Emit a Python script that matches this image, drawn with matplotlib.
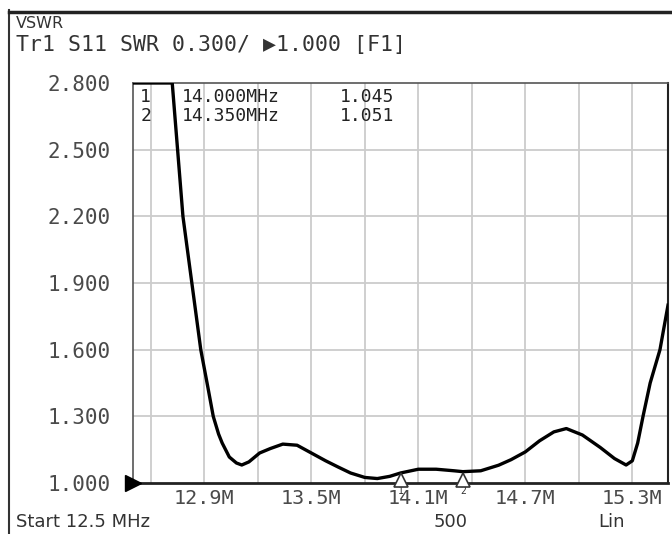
import numpy as np
import matplotlib
matplotlib.use("Agg")
import matplotlib.pyplot as plt

# SWR trace (values above 2.8 are clipped on screen)
freq_mhz = [12.50, 12.60, 12.72, 12.75, 12.78, 12.83, 12.88, 12.92, 12.95, 12.98,
            13.00, 13.04, 13.08, 13.11, 13.15, 13.21, 13.27, 13.34, 13.42, 13.50,
            13.58, 13.65, 13.72, 13.80, 13.87, 13.94, 14.00, 14.10, 14.20, 14.30,
            14.35, 14.45, 14.55, 14.62, 14.70, 14.78, 14.86, 14.93, 15.02, 15.12,
            15.20, 15.265, 15.30, 15.33, 15.36, 15.40, 15.455, 15.50]
swr = [2.800, 2.800, 2.800, 2.500, 2.200, 1.900, 1.600, 1.430, 1.300, 1.220,
       1.180, 1.117, 1.090, 1.081, 1.095, 1.135, 1.155, 1.175, 1.170, 1.135,
       1.100, 1.072, 1.045, 1.025, 1.020, 1.030, 1.045, 1.062, 1.062, 1.055,
       1.051, 1.055, 1.080, 1.105, 1.140, 1.190, 1.230, 1.245, 1.216, 1.160,
       1.110, 1.081, 1.100, 1.180, 1.300, 1.450, 1.600, 1.800]

marker_ids = ["1", "2"]
marker_freqs = [14.000, 14.350]
marker_vals = [1.045, 1.051]

ytick_vals = [1.0, 1.3, 1.6, 1.9, 2.2, 2.5, 2.8]
xgrid_vals = [12.6, 12.9, 13.2, 13.5, 13.8, 14.1, 14.4, 14.7, 15.0, 15.3]
xtick_vals = [12.9, 13.5, 14.1, 14.7, 15.3]
xtick_labels = ["12.9M", "13.5M", "14.1M", "14.7M", "15.3M"]

mono = ["DejaVu Sans Mono", "DejaVu Sans"]
grey = "#4a4a4a"

fig = plt.figure(figsize=(6.72, 5.34), dpi=100)
ax = fig.add_axes([133/672, 1 - 483/534, 535/672, 400/534])

ax.plot(freq_mhz, swr, color="black", lw=2.4, solid_joinstyle="round", zorder=3)
ax.set_xlim(12.5, 15.5)
ax.set_ylim(1.0, 2.8)

for xv in xgrid_vals:
    ax.axvline(xv, color="#cccccc", lw=1.3, zorder=1)
for yv in ytick_vals[1:-1]:
    ax.axhline(yv, color="#cccccc", lw=1.3, zorder=1)

ax.set_yticks(ytick_vals)
ax.set_yticklabels(["%.3f" % v for v in ytick_vals], family=mono, fontsize=15, color=grey)
ax.set_xticks(xtick_vals)
ax.set_xticklabels(xtick_labels, family=mono, fontsize=14.5, color=grey)
ax.tick_params(axis="y", length=0, pad=16)
ax.tick_params(axis="x", length=0, pad=4)

for side in ["top", "left"]:
    ax.spines[side].set_color("#555555")
    ax.spines[side].set_linewidth(1.2)
ax.spines["right"].set_color("#222222")
ax.spines["right"].set_linewidth(1.5)
ax.spines["bottom"].set_color("#222222")
ax.spines["bottom"].set_linewidth(2.0)

# reference level arrow
ax.plot([12.5], [1.0], marker=">", color="black", markersize=11, clip_on=False, zorder=5)

# marker table
rows_y = [2.738, 2.650]
for mid, mf, mv, yy in zip(marker_ids, marker_freqs, marker_vals, rows_y):
    ax.text(12.54, yy, mid, family=mono, fontsize=13, color="#222222", va="center")
    ax.text(12.775, yy, "%.3fMHz" % mf, family=mono, fontsize=13, color="#222222", va="center")
    ax.text(13.66, yy, "%.3f" % mv, family=mono, fontsize=13, color="#222222", va="center")

# marker symbols on the bottom edge
for mid, mf in zip(marker_ids, marker_freqs):
    ax.plot([mf, mf], [1.0, 1.035], color="#333333", lw=1.0, clip_on=False, zorder=4)
    ax.plot([mf], [1.012], marker="^", markersize=10, markerfacecolor="white",
            markeredgecolor="#333333", markeredgewidth=1.2, clip_on=False, zorder=4)
    ax.text(mf, 0.962, mid, family=mono, fontsize=7, color="#333333",
            ha="center", va="center")

# screen header / footer
fig.text(16/672, 1 - 24/534, "VSWR", fontsize=11.5, color="#333333", va="center")
fig.text(16/672, 1 - 45/534, "Tr1 S11 SWR 0.300/ \u25b61.000 [F1]", family=mono,
         fontsize=15.5, color="#333333", va="center")
fig.text(16/672, 1 - 522/534, "Start 12.5 MHz", fontsize=13, color="#333333", va="center")
fig.text(451/672, 1 - 522/534, "500", fontsize=13, color="#333333", va="center", ha="center")
fig.text(612/672, 1 - 522/534, "Lin", fontsize=13, color="#333333", va="center", ha="center")

# instrument window borders
fig.add_artist(plt.Line2D([9/672, 9/672], [0, 1 - 10/534], color="#333333", lw=1.5))
fig.add_artist(plt.Line2D([9/672, 1], [1 - 12/534, 1 - 12/534], color="#222222", lw=2.5))

fig.savefig("out.png", dpi=100)
